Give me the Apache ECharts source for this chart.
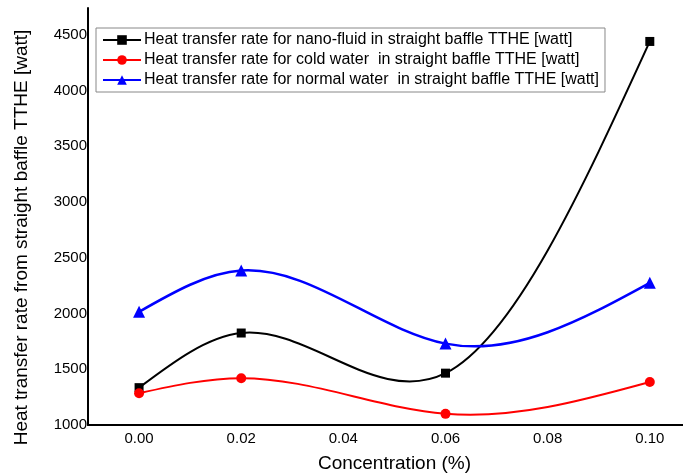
<!DOCTYPE html>
<html>
<head>
<meta charset="utf-8">
<script src="https://cdn.jsdelivr.net/npm/echarts@6/dist/echarts.min.js"></script>
<style>
  html, body { margin: 0; padding: 0; background: #fff; }
  #main { width: 683px; height: 473px; }
</style>
</head>
<body>
<div id="main"></div>
<script>
// concentration (%)
var xdata = [0.00, 0.02, 0.06, 0.10];
var xticks = [0.00, 0.02, 0.04, 0.06, 0.08, 0.10];
var yticks = [1000, 1500, 2000, 2500, 3000, 3500, 4000, 4500];

var nanoFluid = [1335, 1825, 1465, 4440];
var coldWater = [1285, 1420, 1100, 1385];
var normalWater = [2015, 2385, 1730, 2275];

var names = [
    'Heat transfer rate for nano-fluid in straight baffle TTHE [watt]',
    'Heat transfer rate for cold water  in straight baffle TTHE [watt]',
    'Heat transfer rate for normal water  in straight baffle TTHE [watt]'
];
var colors = ['#000000', '#ff0000', '#0000ff'];

var font = 'Liberation Sans, Arial, sans-serif';

function pairs(ys) {
    var out = [];
    for (var i = 0; i < xdata.length; i++) {
        out.push([xdata[i], ys[i]]);
    }
    return out;
}

// natural cubic spline through pixel points -> svg path (bezier segments)
function splinePath(pts) {
    var n = pts.length;
    var h = [];
    for (var i = 0; i < n - 1; i++) h.push(pts[i + 1][0] - pts[i][0]);
    // tridiagonal solve for second derivatives
    var a = [], b = [], c = [], r = [];
    for (var i = 1; i < n - 1; i++) {
        a.push(h[i - 1]);
        b.push(2 * (h[i - 1] + h[i]));
        c.push(h[i]);
        r.push(6 * ((pts[i + 1][1] - pts[i][1]) / h[i] - (pts[i][1] - pts[i - 1][1]) / h[i - 1]));
    }
    var k = b.length;
    for (var i = 1; i < k; i++) {
        var w = a[i] / b[i - 1];
        b[i] -= w * c[i - 1];
        r[i] -= w * r[i - 1];
    }
    var mm = new Array(k);
    for (var i = k - 1; i >= 0; i--) {
        mm[i] = (r[i] - (i < k - 1 ? c[i] * mm[i + 1] : 0)) / b[i];
    }
    var m = [0].concat(mm).concat([0]);
    var d = 'M' + pts[0][0] + ',' + pts[0][1];
    for (var i = 0; i < n - 1; i++) {
        var x0 = pts[i][0], y0 = pts[i][1], x1 = pts[i + 1][0], y1 = pts[i + 1][1];
        var hi = h[i];
        var s = (y1 - y0) / hi;
        var d0 = s - hi * (2 * m[i] + m[i + 1]) / 6;
        var d1 = s + hi * (m[i] + 2 * m[i + 1]) / 6;
        d += 'C' + (x0 + hi / 3) + ',' + (y0 + d0 * hi / 3) + ' ' +
            (x1 - hi / 3) + ',' + (y1 - d1 * hi / 3) + ' ' + x1 + ',' + y1;
    }
    return d;
}

function curveSeries(name, ys, color, width) {
    return {
        name: name,
        type: 'custom',
        z: 1,
        data: pairs(ys),
        encode: { x: 0, y: 1 },
        renderItem: function (params, api) {
            if (params.dataIndex !== 0) return null;
            var pts = [];
            for (var i = 0; i < xdata.length; i++) {
                pts.push(api.coord([xdata[i], ys[i]]));
            }
            return {
                type: 'path',
                shape: { pathData: splinePath(pts) },
                style: { stroke: color, lineWidth: width, fill: null }
            };
        }
    };
}

function markerSeries(name, ys, color, symbol, size) {
    return {
        name: name,
        type: 'line',
        z: 3,
        symbol: symbol,
        symbolSize: size,
        itemStyle: { color: color },
        lineStyle: { color: color, width: 2, opacity: 0 },
        data: pairs(ys)
    };
}

var chart = echarts.init(document.getElementById('main'), null, { renderer: 'canvas' });

var option = {
    backgroundColor: '#ffffff',
    animation: false,
    textStyle: { fontFamily: font },
    grid: {
        left: 88,
        right: 0,
        top: 8,
        bottom: 48,
        outerBoundsMode: 'none'
    },
    legend: {
        orient: 'vertical',
        left: 96,
        top: 28,
        padding: [4, 6, 4, 6],
        itemWidth: 38,
        itemHeight: 12,
        itemGap: 4,
        borderColor: '#888',
        borderWidth: 1,
        backgroundColor: '#fff',
        lineStyle: { opacity: 1, width: 2 },
        textStyle: { fontFamily: font, fontSize: 16, lineHeight: 16, color: '#000', padding: [0, 0, 0, -2] },
        data: names
    },
    xAxis: {
        type: 'value',
        min: -0.01,
        max: 0.1065,
        name: 'Concentration (%)',
        nameLocation: 'middle',
        nameGap: 29,
        nameTextStyle: { fontFamily: font, fontSize: 19, color: '#000', padding: [0, 0, 0, 18] },
        axisLine: { show: true, onZero: false, lineStyle: { color: '#000', width: 2 } },
        axisTick: { show: false },
        splitLine: { show: false },
        axisLabel: {
            customValues: xticks,
            margin: 6,
            fontSize: 15,
            color: '#000',
            fontFamily: font,
            formatter: function (v) { return v.toFixed(2); }
        }
    },
    yAxis: {
        type: 'value',
        min: 1000,
        max: 4740,
        name: 'Heat transfer rate from straight baffle TTHE [watt]',
        nameLocation: 'middle',
        nameGap: 57,
        nameTextStyle: { fontFamily: font, fontSize: 19, color: '#000', padding: [0, 42, 0, 0] },
        axisLine: { show: true, onZero: false, lineStyle: { color: '#000', width: 2 } },
        axisTick: { show: false },
        splitLine: { show: false },
        axisLabel: {
            customValues: yticks,
            margin: 1,
            fontSize: 15,
            color: '#000',
            fontFamily: font,
            formatter: function (v) { return String(v); }
        }
    },
    series: [
        markerSeries(names[0], nanoFluid, colors[0], 'rect', 9),
        markerSeries(names[1], coldWater, colors[1], 'circle', 10),
        markerSeries(names[2], normalWater, colors[2], 'triangle', 12),
        curveSeries(names[0], nanoFluid, colors[0], 2),
        curveSeries(names[1], coldWater, colors[1], 2),
        curveSeries(names[2], normalWater, colors[2], 2.5)
    ]
};

chart.setOption(option);
</script>
</body>
</html>
